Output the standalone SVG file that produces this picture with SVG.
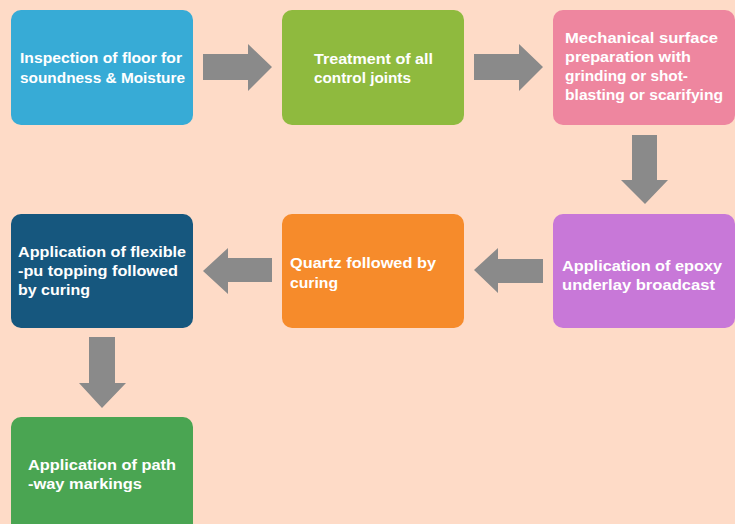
<svg xmlns="http://www.w3.org/2000/svg" width="735" height="524" viewBox="0 0 735 524">
<style>
.box{stroke:none}
.t{font-family:"Liberation Sans",Arial,sans-serif;font-weight:bold;font-size:15.5px;fill:#ffffff}
.arr{fill:#8a8a8a}
</style>
<rect x="0" y="0" width="735" height="524" fill="#fedbc7"/>
<g id="n1"><rect class="box" x="11" y="10" width="182" height="115" rx="10" fill="#37abd6"/>
<text class="t" x="20" y="63" textLength="162" lengthAdjust="spacingAndGlyphs">Inspection of floor for</text><text class="t" x="20" y="83" textLength="165" lengthAdjust="spacingAndGlyphs">soundness &amp; Moisture</text></g>
<g id="n2"><rect class="box" x="282" y="10" width="182" height="115" rx="10" fill="#8fba3e"/>
<text class="t" x="314" y="64" textLength="119" lengthAdjust="spacingAndGlyphs">Treatment of all</text><text class="t" x="314" y="83" textLength="97" lengthAdjust="spacingAndGlyphs">control joints</text></g>
<g id="n3"><rect class="box" x="553" y="10" width="182" height="115" rx="10" fill="#ee869f"/>
<text class="t" x="565" y="43" textLength="153" lengthAdjust="spacingAndGlyphs">Mechanical surface</text><text class="t" x="565" y="62" textLength="126" lengthAdjust="spacingAndGlyphs">preparation with</text><text class="t" x="565" y="81" textLength="123" lengthAdjust="spacingAndGlyphs">grinding or shot-</text><text class="t" x="565" y="100" textLength="158" lengthAdjust="spacingAndGlyphs">blasting or scarifying</text></g>
<g id="n4"><rect class="box" x="11" y="214" width="182" height="114" rx="10" fill="#16577e"/>
<text class="t" x="18" y="257" textLength="168" lengthAdjust="spacingAndGlyphs">Application of flexible</text><text class="t" x="18" y="276" textLength="160" lengthAdjust="spacingAndGlyphs">-pu topping followed</text><text class="t" x="18" y="295" textLength="72" lengthAdjust="spacingAndGlyphs">by curing</text></g>
<g id="n5"><rect class="box" x="282" y="214" width="182" height="114" rx="10" fill="#f68b2b"/>
<text class="t" x="290" y="268" textLength="146" lengthAdjust="spacingAndGlyphs">Quartz followed by</text><text class="t" x="290" y="288" textLength="48" lengthAdjust="spacingAndGlyphs">curing</text></g>
<g id="n6"><rect class="box" x="553" y="214" width="182" height="114" rx="10" fill="#c878d8"/>
<text class="t" x="562" y="271" textLength="160" lengthAdjust="spacingAndGlyphs">Application of epoxy</text><text class="t" x="562" y="290" textLength="153" lengthAdjust="spacingAndGlyphs">underlay broadcast</text></g>
<g id="n7"><rect class="box" x="11" y="417" width="182" height="120" rx="10" fill="#4aa552"/>
<text class="t" x="28" y="470" textLength="148" lengthAdjust="spacingAndGlyphs">Application of path</text><text class="t" x="28" y="489" textLength="114" lengthAdjust="spacingAndGlyphs">-way markings</text></g>
<g id="connectors">
<polygon class="arr" points="203,54 248,54 248,44 272,67 248,91 248,80 203,80"/>
<polygon class="arr" points="474,54 519,54 519,44 543,67 519,91 519,80 474,80"/>
<polygon class="arr" points="632,135 657,135 657,180 668,180 645,204 621,180 632,180"/>
<polygon class="arr" points="543,259 498,259 498,248 474,270 498,293 498,283 543,283"/>
<polygon class="arr" points="272,258 228,258 228,248 203,271 228,294 228,282 272,282"/>
<polygon class="arr" points="89,337 115,337 115,383 126,383 102,408 79,383 89,383"/>
</g>
</svg>
